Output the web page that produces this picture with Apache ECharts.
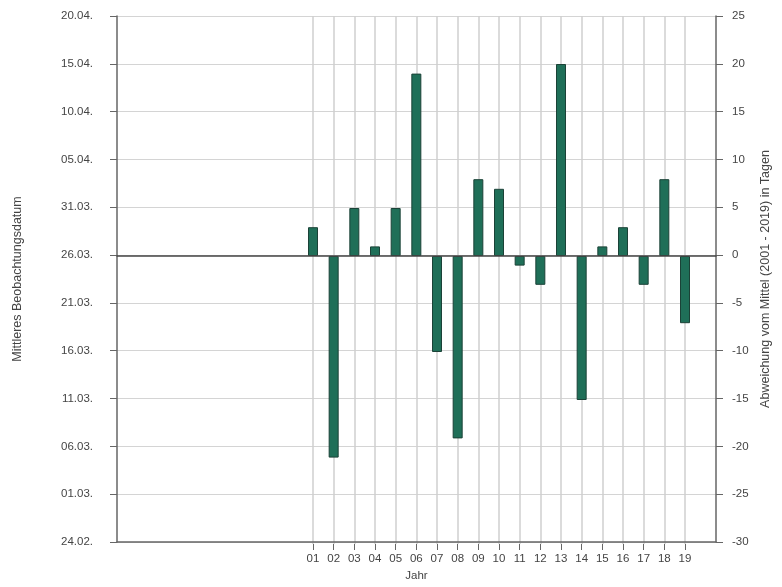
<!DOCTYPE html>
<html>
<head>
<meta charset="utf-8">
<script src="https://cdn.jsdelivr.net/npm/echarts@6/dist/echarts.min.js"></script>
<style>
  html, body { margin: 0; padding: 0; background: #fff; }
  #chart { width: 782px; height: 587px; }
</style>
</head>
<body>
<div id="chart"></div>
<script>
// Jahre 2001 - 2019
const years = ['01', '02', '03', '04', '05', '06', '07', '08', '09', '10',
  '11', '12', '13', '14', '15', '16', '17', '18', '19'];
// Abweichung vom Mittel in Tagen
const deviation = [3, -21, 5, 1, 5, 19, -10, -19, 8, 7, -1, -3, 20, -15, 1, 3, -3, 8, -7];
// linke Achse: Datum, von -30 bis 25 in 5er Schritten
const dateLabels = ['24.02.', '01.03.', '06.03.', '11.03.', '16.03.', '21.03.',
  '26.03.', '31.03.', '05.04.', '10.04.', '15.04.', '20.04.'];

const txt = { color: '#444', fontSize: 11.5, fontFamily: 'Liberation Sans' };
const nameTxt = { color: '#444', fontSize: 12.5, fontFamily: 'Liberation Sans' };
const yMin = -30, yMax = 25, step = 5;

const option = {
  animation: false,
  textStyle: { fontFamily: 'Liberation Sans' },
  grid: [
    { left: 117, right: 66, top: 16, height: 528 }, // Achsen + waagerechte Linien
    { left: 313, right: 97, top: 16, height: 528 }, // Balken
    { left: 117, right: 66, top: 16, height: 528 }  // Nulllinie
  ],
  xAxis: [
    {
      gridIndex: 0, type: 'value', min: 0, max: 1, position: 'bottom',
      name: 'Jahr', nameLocation: 'middle', nameGap: 28,
      nameTextStyle: txt,
      axisLine: { onZero: false, lineStyle: { color: '#666', width: 1.5 } },
      axisTick: { show: false }, axisLabel: { show: false }, splitLine: { show: false }
    },
    {
      gridIndex: 1, type: 'category', data: years, boundaryGap: false, position: 'bottom',
      axisLine: { show: false, onZero: false },
      axisTick: { show: true, length: 6, lineStyle: { color: '#666' } },
      axisLabel: Object.assign({ margin: 9, interval: 0 }, txt),
      splitLine: { show: true, lineStyle: { color: '#cfcfcf', width: 1.5 } }
    },
    {
      gridIndex: 2, type: 'value', min: 0, max: 1,
      axisLine: { onZero: true, lineStyle: { color: '#444', width: 1.5 } },
      axisTick: { show: false }, axisLabel: { show: false }, splitLine: { show: false },
      z: 5
    }
  ],
  yAxis: [
    {
      gridIndex: 0, type: 'value', min: yMin, max: yMax, interval: step, position: 'left',
      name: 'Mittleres Beobachtungsdatum', nameLocation: 'middle', nameGap: 93,
      nameRotate: 90, nameTextStyle: nameTxt,
      axisLine: { show: true, lineStyle: { color: '#666', width: 1.5 } },
      axisTick: { show: true, length: 7, lineStyle: { color: '#666' } },
      axisLabel: Object.assign({
        margin: 24,
        formatter: v => dateLabels[Math.round((v - yMin) / step)]
      }, txt),
      splitLine: { show: true, lineStyle: { color: '#d4d4d4', width: 1 } }
    },
    {
      gridIndex: 0, type: 'value', min: yMin, max: yMax, interval: step, position: 'right',
      name: 'Abweichung vom Mittel (2001 - 2019) in Tagen', nameLocation: 'middle',
      nameGap: 42, nameRotate: 90, nameTextStyle: nameTxt,
      axisLine: { show: true, lineStyle: { color: '#666', width: 1.5 } },
      axisTick: { show: true, length: 7, lineStyle: { color: '#666' } },
      axisLabel: Object.assign({ margin: 16 }, txt),
      splitLine: { show: false }
    },
    {
      gridIndex: 1, type: 'value', min: yMin, max: yMax, show: false
    },
    {
      gridIndex: 2, type: 'value', min: yMin, max: yMax, show: false
    }
  ],
  series: [
    {
      type: 'bar',
      xAxisIndex: 1,
      yAxisIndex: 2,
      data: deviation,
      barWidth: 10,
      clip: false,
      itemStyle: { color: '#1f6f58', borderColor: '#1b4237', borderWidth: 1 }
    }
  ]
};

const myChart = echarts.init(document.getElementById('chart'));
myChart.setOption(option);
</script>
</body>
</html>
